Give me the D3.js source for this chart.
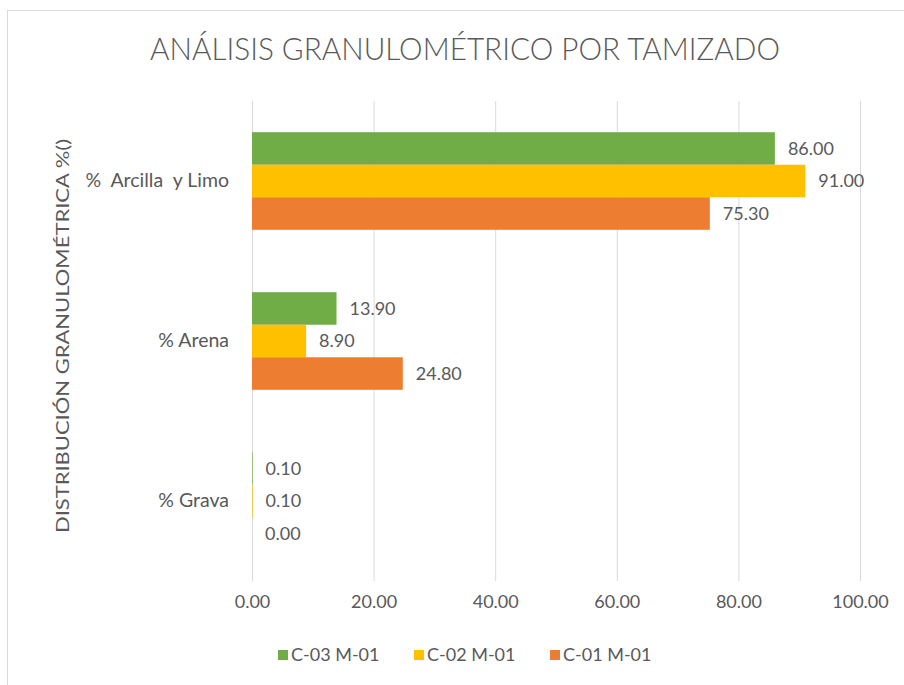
<!DOCTYPE html>
<html><head><meta charset="utf-8">
<script src="https://cdn.jsdelivr.net/npm/d3@7"></script>
<style>body{margin:0;background:#fff}svg{display:block}</style>
</head><body>
<svg id="c" width="904" height="685"></svg>
<script>
const categories = ["%  Arcilla  y Limo", "% Arena", "% Grava"];
const seriesNames = ["C-03 M-01", "C-02 M-01", "C-01 M-01"];
const c03 = [86.00, 13.90, 0.10];
const c02 = [91.00, 8.90, 0.10];
const c01 = [75.30, 24.80, 0.00];
const seriesValues = [c03, c02, c01];
const colors = ["#70AD47", "#FFC000", "#ED7D31"];
const xTicks = [0, 20, 40, 60, 80, 100];

const svg = d3.select("#c");
const txt = "#595959";
const font = "Lato, sans-serif";
const fs = 18;

svg.append("rect").attr("x",7.5).attr("y",10.5).attr("width",905).attr("height",690)
  .attr("fill","#fff").attr("stroke","#d9d9d9");

const L = 252, R = 860, T = 101, B = 581;
const x = d3.scaleLinear().domain([0,100]).range([L,R]);
const y = d3.scaleBand().domain(categories).range([T,B]).paddingInner(0.39).paddingOuter(0.195);
const ySub = d3.scaleBand().domain(seriesNames).range([0,y.bandwidth()]);

// grid
const gx = svg.append("g").attr("transform",`translate(0,${B})`)
  .call(d3.axisBottom(x).tickValues(xTicks).tickSize(-(B-T)).tickFormat(d=>d.toFixed(2)).tickPadding(14));
gx.select(".domain").remove();
gx.selectAll(".tick line").attr("stroke","#d9d9d9");
gx.selectAll(".tick text").attr("fill",txt).attr("font-family",font).attr("font-size",fs);

// category axis
const gy = svg.append("g").attr("transform",`translate(${L},0)`)
  .call(d3.axisLeft(y).tickSize(0).tickPadding(23));
gy.select(".domain").attr("stroke","#d9d9d9");
gy.selectAll(".tick text").attr("fill",txt).attr("font-family",font).attr("font-size",19.5)
  .style("white-space","pre");

// bars
seriesNames.forEach((s,si)=>{
  const g = svg.append("g");
  g.selectAll("rect").data(categories).join("rect")
    .attr("x", x(0))
    .attr("y", c => y(c)+ySub(s))
    .attr("width", (c,i) => x(seriesValues[si][i]) - x(0))
    .attr("height", ySub.bandwidth())
    .attr("fill", colors[si]);
  g.selectAll("text").data(categories).join("text")
    .attr("x", (c,i) => x(seriesValues[si][i]) + 13)
    .attr("y", c => y(c)+ySub(s)+ySub.bandwidth()/2)
    .attr("dy","0.35em")
    .attr("fill",txt).attr("font-family",font).attr("font-size",fs)
    .text((c,i)=>seriesValues[si][i].toFixed(2));
});

// title
svg.append("text").attr("x",465).attr("y",60).attr("text-anchor","middle")
  .attr("fill",txt).attr("font-family",font).attr("font-weight",300).attr("font-size",31)
  .attr("textLength",630).attr("lengthAdjust","spacingAndGlyphs")
  .text("ANÁLISIS GRANULOMÉTRICO POR TAMIZADO");

// y title
svg.append("text").attr("transform","translate(69,336) rotate(-90)").attr("text-anchor","middle")
  .attr("fill",txt).attr("font-family",font).attr("font-size",18)
  .attr("textLength",394).attr("lengthAdjust","spacingAndGlyphs")
  .text("DISTRIBUCIÓN GRANULOMÉTRICA %()");

// legend
const legX = [278, 414, 550];
seriesNames.forEach((s,i)=>{
  svg.append("rect").attr("x",legX[i]).attr("y",650).attr("width",10).attr("height",10).attr("fill",colors[i]);
  svg.append("text").attr("x",legX[i]+13).attr("y",655).attr("dy","0.35em")
    .attr("fill",txt).attr("font-family",font).attr("font-size",fs).text(s);
});
</script>
</body></html>
